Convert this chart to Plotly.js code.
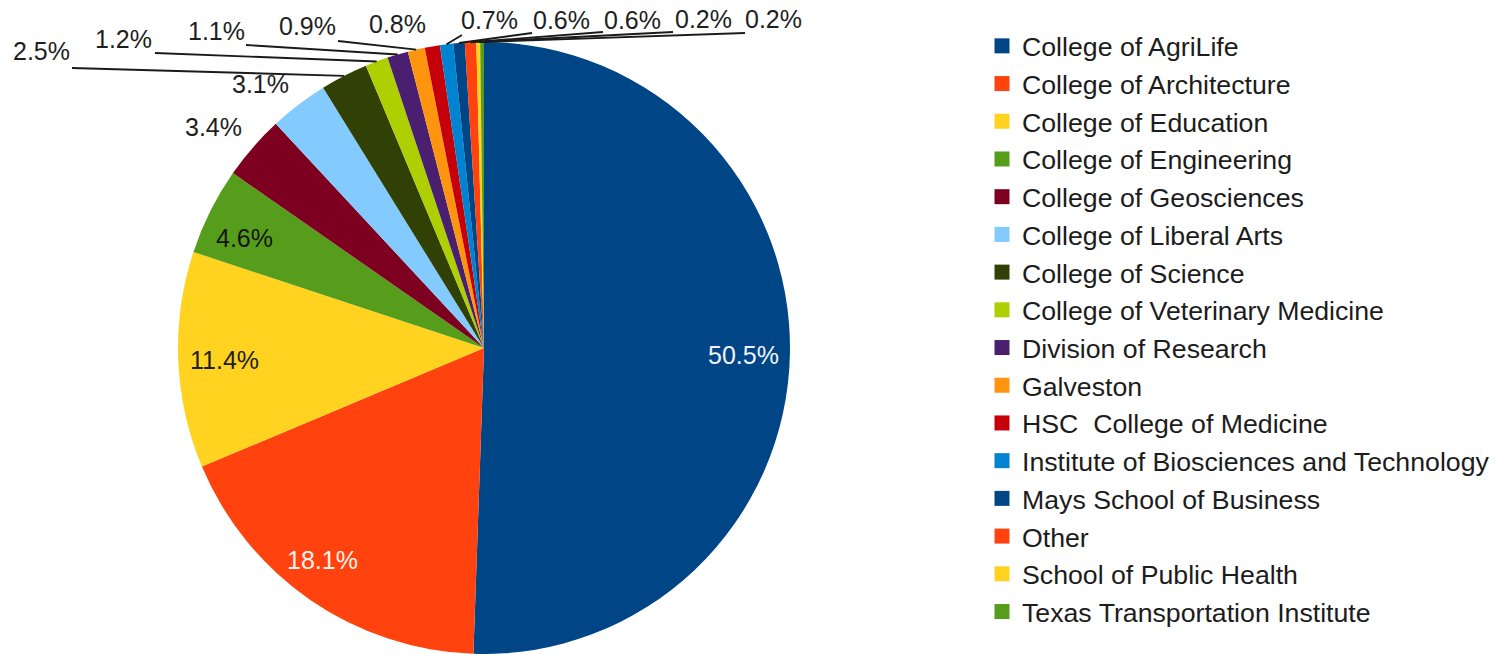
<!DOCTYPE html>
<html><head><meta charset="utf-8">
<script src="https://cdn.plot.ly/plotly-3.0.1.min.js"></script>
<style>html,body{margin:0;padding:0;background:#fff;} #chart{width:1497px;height:654px;}</style>
</head><body><div id="chart"></div>
<script>
// ---- data ----
const categories = [
  'College of AgriLife', 'College of Architecture', 'College of Education',
  'College of Engineering', 'College of Geosciences', 'College of Liberal Arts',
  'College of Science', 'College of Veterinary Medicine', 'Division of Research',
  'Galveston', 'HSC  College of Medicine', 'Institute of Biosciences and Technology',
  'Mays School of Business', 'Other', 'School of Public Health', 'Texas Transportation Institute'
];
const values = [50.5, 18.1, 11.4, 4.6, 3.4, 3.1, 2.5, 1.2, 1.1, 0.9, 0.8, 0.7, 0.6, 0.6, 0.2, 0.2];

// ---- style / layout ----
const colors = ['#004586','#ff420e','#ffd320','#579d1c','#7e0021','#83caff','#314004','#aecf00',
                '#4b1f6f','#ff950e','#c5000b','#0084d1','#004586','#ff420e','#ffd320','#579d1c'];
const W = 1497, H = 654, CX = 484, CY = 348, R = 306;
const FONT = '"Liberation Sans", Arial, sans-serif';
const insideColors = ['#eef3f8', '#fff2ec', '#1e1e1e', '#141414'];
const insideNudge = [[-2, 2], [-13, -3], [2, 2], [-6, 7]];
const outsidePos = [null, null, null, null, [213,127], [260,84], [41,51], [124,39], [216,31],
                    [307,26], [397,24], [489,20], [561,20], [632,20], [703,19], [774,19]];
const lineEnds = [null, null, null, null, null, null, [72,68], [155,53], [246,45], [338,41],
                  null, [462,35], [532,33], [603,32], [673,32], [745,33]];

const total = values.reduce((a, b) => a + b, 0);
const toPaper = (px, py) => [px / W, 1 - py / H];
const annotations = [], shapes = [];
let cum = 0;
values.forEach((v, i) => {
  const th = 2 * Math.PI * (cum + v / 2) / total;
  cum += v;
  const pt = f => [CX + f * R * Math.sin(th), CY - f * R * Math.cos(th)];
  const txt = v.toFixed(1) + '%';
  if (!outsidePos[i]) {
    const p = pt(0.855);
    const [x, y] = toPaper(p[0] + insideNudge[i][0], p[1] + insideNudge[i][1]);
    annotations.push({xref:'paper', yref:'paper', x, y, text: txt, showarrow:false,
      xanchor:'center', yanchor:'middle', font:{family:FONT, size:25, color: insideColors[i]}});
  } else {
    const [x, y] = toPaper(...outsidePos[i]);
    annotations.push({xref:'paper', yref:'paper', x, y, text: txt, showarrow:false,
      xanchor:'center', yanchor:'middle', font:{family:FONT, size:25, color:'#1e1e1e'}});
    if (lineEnds[i]) {
      const [x0, y0] = toPaper(...pt(1.0));
      const [x1, y1] = toPaper(...lineEnds[i]);
      shapes.push({type:'line', xref:'paper', yref:'paper', x0, y0, x1, y1,
        line:{color:'#1a1a1a', width:1.9}});
    }
  }
});

const trace = {
  type: 'pie', labels: categories, values: values, sort: false, direction: 'clockwise',
  rotation: 0, textinfo: 'none', hoverinfo: 'label+percent',
  marker: {colors: colors, line: {width: 0}},
  domain: {x: [(CX - R) / W, (CX + R) / W], y: [1 - (CY + R) / H, 1 - (CY - R) / H]}
};
const layout = {
  width: W, height: H, margin: {l:0, r:0, t:0, b:0, autoexpand:false},
  paper_bgcolor: '#fff', plot_bgcolor: '#fff', showlegend: true,
  legend: {x: 982 / W, y: 1 - 22 / H, xanchor:'left', yanchor:'top',
           font: {family: FONT, size: 26.7, color: '#1c1c1c'}, bgcolor:'rgba(0,0,0,0)'},
  annotations: annotations, shapes: shapes
};
Plotly.newPlot('chart', [trace], layout, {displayModeBar:false, staticPlot:true}).then(() => {
  document.querySelectorAll('.legendpie').forEach(p => p.setAttribute('d', 'M7.5,7.5H-7.5V-7.5H7.5Z'));
});
</script></body></html>
